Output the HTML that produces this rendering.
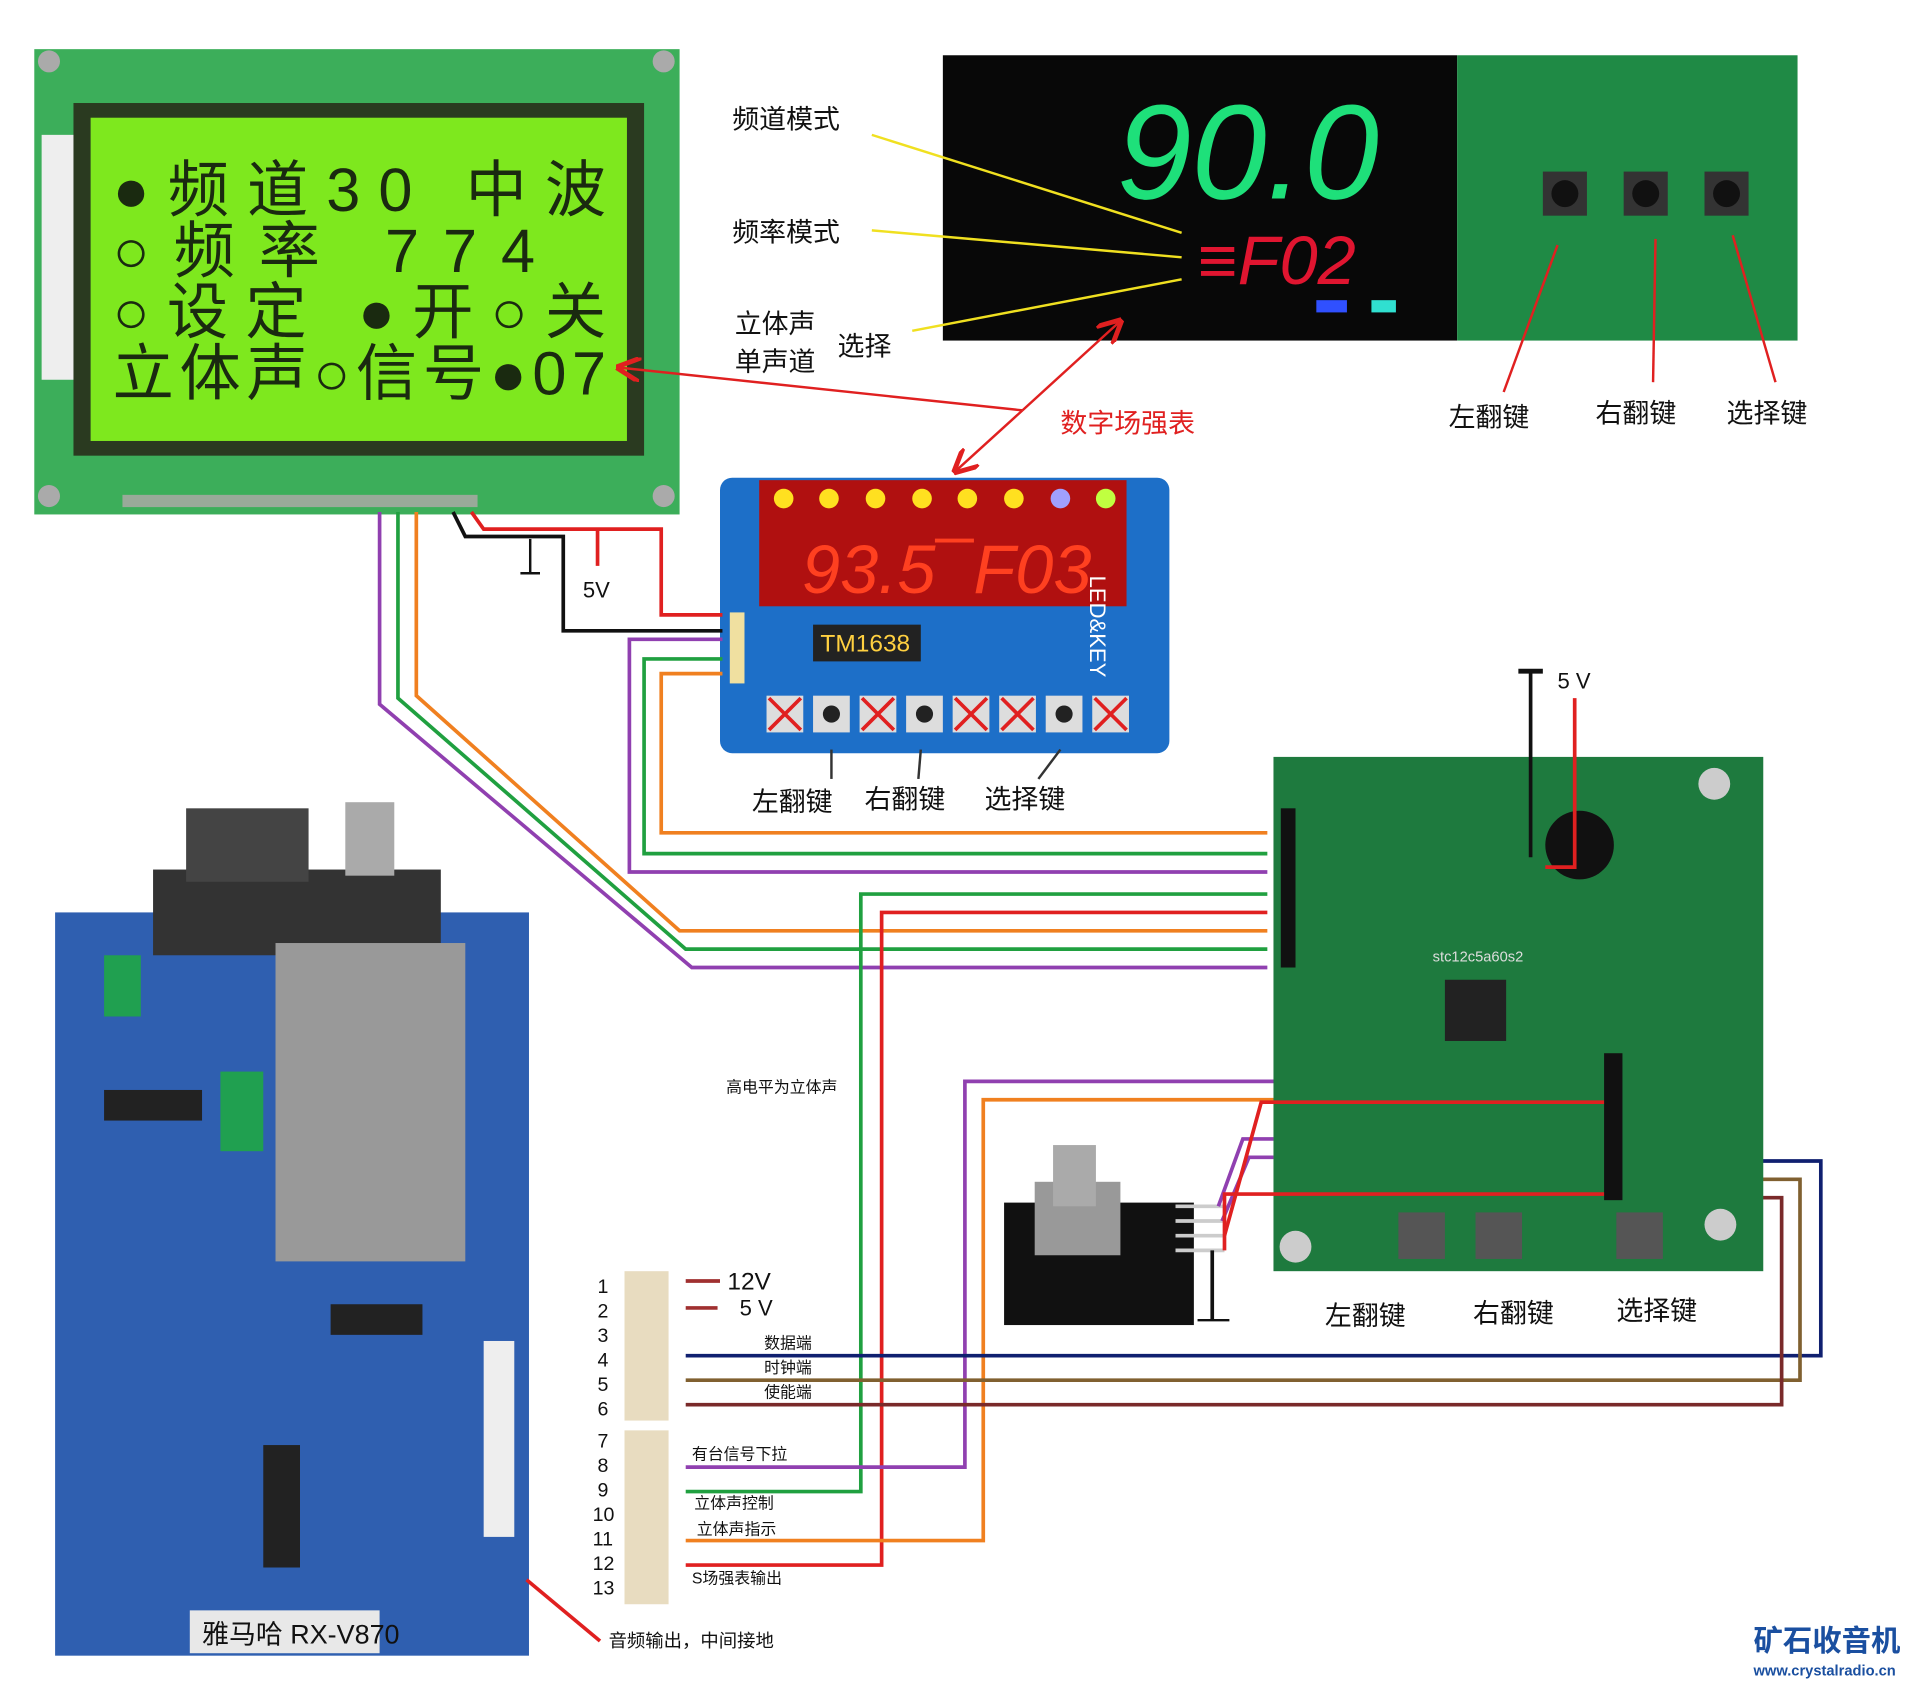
<!DOCTYPE html>
<html><head><meta charset="utf-8"><style>
html,body{margin:0;padding:0;background:#fff;}
svg{display:block;}
text{font-family:"Liberation Sans","Noto Sans CJK SC",sans-serif;}
</style></head><body>
<svg width="1920" height="1684" viewBox="0 0 1568 1375" xmlns="http://www.w3.org/2000/svg">
<rect width="1568" height="1375" fill="#fff"/>
<defs>
<marker id="ar" markerWidth="10" markerHeight="10" refX="9" refY="5" orient="auto"><path d="M0,0 L10,5 L0,10" fill="none" stroke="#e02020" stroke-width="2"/></marker>
</defs>
<!-- LCD board -->
<rect x="28" y="40" width="527" height="380" fill="#3cae5a"/>
<rect x="34" y="110" width="28" height="200" fill="#eee"/>
<rect x="60" y="84" width="466" height="288" fill="#2a3a20"/>
<rect x="74" y="96" width="438" height="264" fill="#7ee81e"/>
<g font-size="50" fill="#1a2a10" font-family="Liberation Sans,'Noto Sans CJK SC',sans-serif">
<text x="92" y="172" textLength="403" lengthAdjust="spacing">●频道30  中波</text>
<text x="92" y="222" textLength="345" lengthAdjust="spacing">○频率  774</text>
<text x="92" y="272" textLength="403" lengthAdjust="spacing">○设定  ●开○关</text>
<text x="92" y="322" textLength="403" lengthAdjust="spacing">立体声○信号●07</text>
</g>
<g fill="#aaa"><circle cx="40" cy="50" r="9"/><circle cx="542" cy="50" r="9"/><circle cx="40" cy="405" r="9"/><circle cx="542" cy="405" r="9"/></g>
<rect x="100" y="404" width="290" height="10" fill="#9a9" />
<!-- top display -->
<rect x="770" y="45" width="420" height="233" fill="#080808"/>
<text x="912" y="162" font-size="110" fill="#1ee07a" font-style="italic" font-family="Liberation Mono,monospace">90.0</text>
<text x="978" y="232" font-size="56" fill="#e01530" font-style="italic" font-family="Liberation Mono,monospace">≡F02</text>
<rect x="1075" y="245" width="25" height="10" fill="#3050ff"/><rect x="1120" y="245" width="20" height="10" fill="#30e0d0"/>
<rect x="1190" y="45" width="278" height="233" fill="#1f8a45"/>
<g fill="#333"><rect x="1260" y="140" width="36" height="36"/><rect x="1326" y="140" width="36" height="36"/><rect x="1392" y="140" width="36" height="36"/></g>
<g fill="#111"><circle cx="1278" cy="158" r="11"/><circle cx="1344" cy="158" r="11"/><circle cx="1410" cy="158" r="11"/></g>
<!-- labels top -->
<g font-size="22" fill="#111">
<text x="598" y="105">频道模式</text><text x="598" y="197">频率模式</text>
<text x="600" y="272">立体声</text><text x="600" y="303">单声道</text><text x="684" y="290">选择</text>
<text x="1183" y="348">左翻键</text><text x="1303" y="345">右翻键</text><text x="1410" y="345">选择键</text>
</g>
<text x="866" y="353" font-size="22" fill="#e02020">数字场强表</text>
<g stroke="#f0e020" stroke-width="2"><line x1="712" y1="110" x2="965" y2="190"/><line x1="712" y1="188" x2="965" y2="210"/><line x1="745" y1="270" x2="965" y2="228"/></g>
<g stroke="#e02020" stroke-width="2" fill="none">
<line x1="1272" y1="200" x2="1228" y2="320"/><line x1="1352" y1="195" x2="1350" y2="312"/><line x1="1415" y1="192" x2="1450" y2="312"/>
<line x1="835" y1="335" x2="505" y2="300" marker-end="url(#ar)"/>
<line x1="835" y1="335" x2="915" y2="262" marker-end="url(#ar)"/>
<line x1="835" y1="335" x2="780" y2="385" marker-end="url(#ar)"/>
</g>
<!-- TM1638 -->
<rect x="588" y="390" width="367" height="225" rx="10" fill="#1d6fc8"/>
<rect x="620" y="392" width="300" height="103" fill="#b01010"/>
<g fill="#ffe020"><circle cx="640" cy="407" r="8"/><circle cx="677" cy="407" r="8"/><circle cx="715" cy="407" r="8"/><circle cx="753" cy="407" r="8"/><circle cx="790" cy="407" r="8"/><circle cx="828" cy="407" r="8"/></g>
<circle cx="866" cy="407" r="8" fill="#a0a0ff"/><circle cx="903" cy="407" r="8" fill="#c0ff40"/>
<text x="655" y="484" font-size="56" fill="#ff4020" font-style="italic" font-family="Liberation Mono,monospace">93.5¯F03</text>
<rect x="664" y="510" width="88" height="30" fill="#222"/><text x="670" y="532" font-size="20" fill="#ffd040">TM1638</text>
<text x="925" y="525" font-size="18" fill="#fff" transform="rotate(90 935 480)">LED&amp;KEY</text>
<g fill="#ddd"><rect x="626" y="568" width="30" height="30"/><rect x="664" y="568" width="30" height="30"/><rect x="702" y="568" width="30" height="30"/><rect x="740" y="568" width="30" height="30"/><rect x="778" y="568" width="30" height="30"/><rect x="816" y="568" width="30" height="30"/><rect x="854" y="568" width="30" height="30"/><rect x="892" y="568" width="30" height="30"/></g>
<g fill="#222"><circle cx="679" cy="583" r="7"/><circle cx="755" cy="583" r="7"/><circle cx="869" cy="583" r="7"/></g>
<g stroke="#e02020" stroke-width="3"><path d="M628,570 L654,596 M654,570 L628,596 M704,570 L730,596 M730,570 L704,596 M780,570 L806,596 M806,570 L780,596 M818,570 L844,596 M844,570 L818,596 M894,570 L920,596 M920,570 L894,596"/></g>
<rect x="596" y="500" width="12" height="58" fill="#f0e0a0"/>
<g font-size="22" fill="#111"><text x="614" y="662">左翻键</text><text x="706" y="660">右翻键</text><text x="804" y="660">选择键</text></g>
<g stroke="#333" stroke-width="2"><line x1="679" y1="612" x2="679" y2="636"/><line x1="752" y1="612" x2="750" y2="636"/><line x1="866" y1="612" x2="848" y2="636"/></g>
<!-- wires -->
<g fill="none" stroke-width="3">
<path d="M385,418 L395,432 L540,432 L540,502 L590,502" stroke="#e02020"/>
<path d="M370,418 L380,438 L460,438 L460,515 L590,515" stroke="#111"/>
<path d="M488,432 L488,462" stroke="#e02020"/>
<path d="M310,418 L310,575 L565,790 L1035,790" stroke="#9040b0"/>
<path d="M325,418 L325,570 L560,775 L1035,775" stroke="#20a040"/>
<path d="M340,418 L340,568 L555,760 L1035,760" stroke="#f08020"/>
<path d="M590,522 L514,522 L514,712 L1035,712" stroke="#9040b0"/>
<path d="M590,538 L526,538 L526,697 L1035,697" stroke="#20a040"/>
<path d="M590,550 L540,550 L540,680 L1035,680" stroke="#f08020"/>
<path d="M1035,730 L703,730 L703,1218 L560,1218" stroke="#20a040"/>
<path d="M1035,745 L720,745 L720,1278 L560,1278" stroke="#e02020"/>
<path d="M1310,883 L788,883 L788,1198 L560,1198" stroke="#9040b0"/>
<path d="M1310,898 L803,898 L803,1258 L560,1258" stroke="#f08020"/>
<path d="M560,1107 L1487,1107 L1487,948 L1330,948" stroke="#102070"/>
<path d="M560,1127 L1470,1127 L1470,963 L1330,963" stroke="#806030"/>
<path d="M560,1147 L1455,1147 L1455,978 L1330,978" stroke="#7a2a2a"/>
<path d="M560,1046 L588,1046 M560,1068 L586,1068" stroke="#a03030"/>
</g>
<g stroke="#111" stroke-width="2"><line x1="433" y1="440" x2="433" y2="468"/><line x1="425" y1="468" x2="441" y2="468"/></g>
<text x="476" y="488" font-size="18" fill="#111">5V</text>
<!-- MCU board -->
<rect x="1040" y="618" width="400" height="420" fill="#1e7a3e"/>
<rect x="1180" y="800" width="50" height="50" fill="#222"/>
<text x="1170" y="785" font-size="12" fill="#ddd">stc12c5a60s2</text>
<g fill="#555"><rect x="1142" y="990" width="38" height="38"/><rect x="1205" y="990" width="38" height="38"/><rect x="1320" y="990" width="38" height="38"/></g>
<circle cx="1290" cy="690" r="28" fill="#111"/>
<g fill="#ccc"><circle cx="1058" cy="1018" r="13"/><circle cx="1405" cy="1000" r="13"/><circle cx="1400" cy="640" r="13"/></g>
<g fill="#111"><rect x="1046" y="660" width="12" height="130"/><rect x="1310" y="860" width="15" height="120"/></g>
<g stroke-width="3" fill="none"><path d="M1250,548 L1250,700" stroke="#111"/><path d="M1286,570 L1286,708 L1262,708" stroke="#e02020"/></g>
<line x1="1240" y1="548" x2="1260" y2="548" stroke="#111" stroke-width="4"/>
<text x="1272" y="562" font-size="18" fill="#111">5 V</text>
<g font-size="22" fill="#111"><text x="1082" y="1082">左翻键</text><text x="1203" y="1080">右翻键</text><text x="1320" y="1078">选择键</text></g>
<!-- encoder -->
<rect x="820" y="982" width="155" height="100" fill="#111"/>
<rect x="845" y="965" width="70" height="60" fill="#999"/>
<rect x="860" y="935" width="35" height="50" fill="#aaa"/>
<g stroke="#ccc" stroke-width="3"><line x1="960" y1="985" x2="1000" y2="985"/><line x1="960" y1="997" x2="1000" y2="997"/><line x1="960" y1="1009" x2="1000" y2="1009"/><line x1="960" y1="1021" x2="1000" y2="1021"/></g>
<g fill="none" stroke-width="3"><path d="M995,985 L1015,930 L1040,930" stroke="#9040b0"/><path d="M998,997 L1020,945 L1040,945" stroke="#9040b0"/><path d="M1000,1009 L1030,900 L1310,900" stroke="#e02020"/><path d="M1000,1021 L1000,975 L1310,975" stroke="#e02020"/><path d="M990,1021 L990,1078" stroke="#111"/></g>
<line x1="978" y1="1078" x2="1004" y2="1078" stroke="#111" stroke-width="2"/>
<!-- radio board -->
<rect x="45" y="745" width="387" height="607" fill="#2f5fb0"/>
<rect x="125" y="710" width="235" height="70" fill="#333"/>
<rect x="152" y="660" width="100" height="60" fill="#444"/>
<rect x="282" y="655" width="40" height="60" fill="#aaa"/>
<rect x="225" y="770" width="155" height="260" fill="#999"/>
<rect x="155" y="1315" width="155" height="35" fill="#e8e8e8"/>
<text x="165" y="1342" font-size="22" fill="#111" font-family="Liberation Serif,'Noto Serif CJK SC',serif">雅马哈 RX-V870</text>
<rect x="85" y="780" width="30" height="50" fill="#20a050"/>
<rect x="180" y="875" width="35" height="65" fill="#20a050"/>
<rect x="85" y="890" width="80" height="25" fill="#222"/>
<rect x="270" y="1065" width="75" height="25" fill="#222"/>
<rect x="215" y="1180" width="30" height="100" fill="#222"/>
<rect x="395" y="1095" width="25" height="160" fill="#eee"/>
<!-- connector -->
<rect x="510" y="1038" width="36" height="122" fill="#e8dcc0"/>
<rect x="510" y="1168" width="36" height="142" fill="#e8dcc0"/>
<g font-size="16" fill="#111">
<text x="488" y="1056">1</text><text x="488" y="1076">2</text><text x="488" y="1096">3</text><text x="488" y="1116">4</text><text x="488" y="1136">5</text><text x="488" y="1156">6</text>
<text x="488" y="1182">7</text><text x="488" y="1202">8</text><text x="488" y="1222">9</text><text x="484" y="1242">10</text><text x="484" y="1262">11</text><text x="484" y="1282">12</text><text x="484" y="1302">13</text>
</g>
<text x="594" y="1053" font-size="20" fill="#111">12V</text><text x="604" y="1074" font-size="18" fill="#111">5 V</text>
<g font-size="13" fill="#111">
<text x="624" y="1101">数据端</text><text x="624" y="1121">时钟端</text><text x="624" y="1141">使能端</text>
<text x="565" y="1192">有台信号下拉</text><text x="567" y="1232">立体声控制</text><text x="569" y="1253">立体声指示</text><text x="565" y="1293">S场强表输出</text>
<text x="593" y="892">高电平为立体声</text>
<text x="497" y="1345" font-size="15">音频输出，中间接地</text>
</g>
<line x1="430" y1="1290" x2="490" y2="1340" stroke="#e02020" stroke-width="3"/>
<text x="1432" y="1348" font-size="24" font-weight="bold" fill="#1a4fa0">矿石收音机</text>
<text x="1432" y="1368" font-size="12" font-weight="bold" fill="#1a4fa0">www.crystalradio.cn</text>
</svg>
</body></html>
